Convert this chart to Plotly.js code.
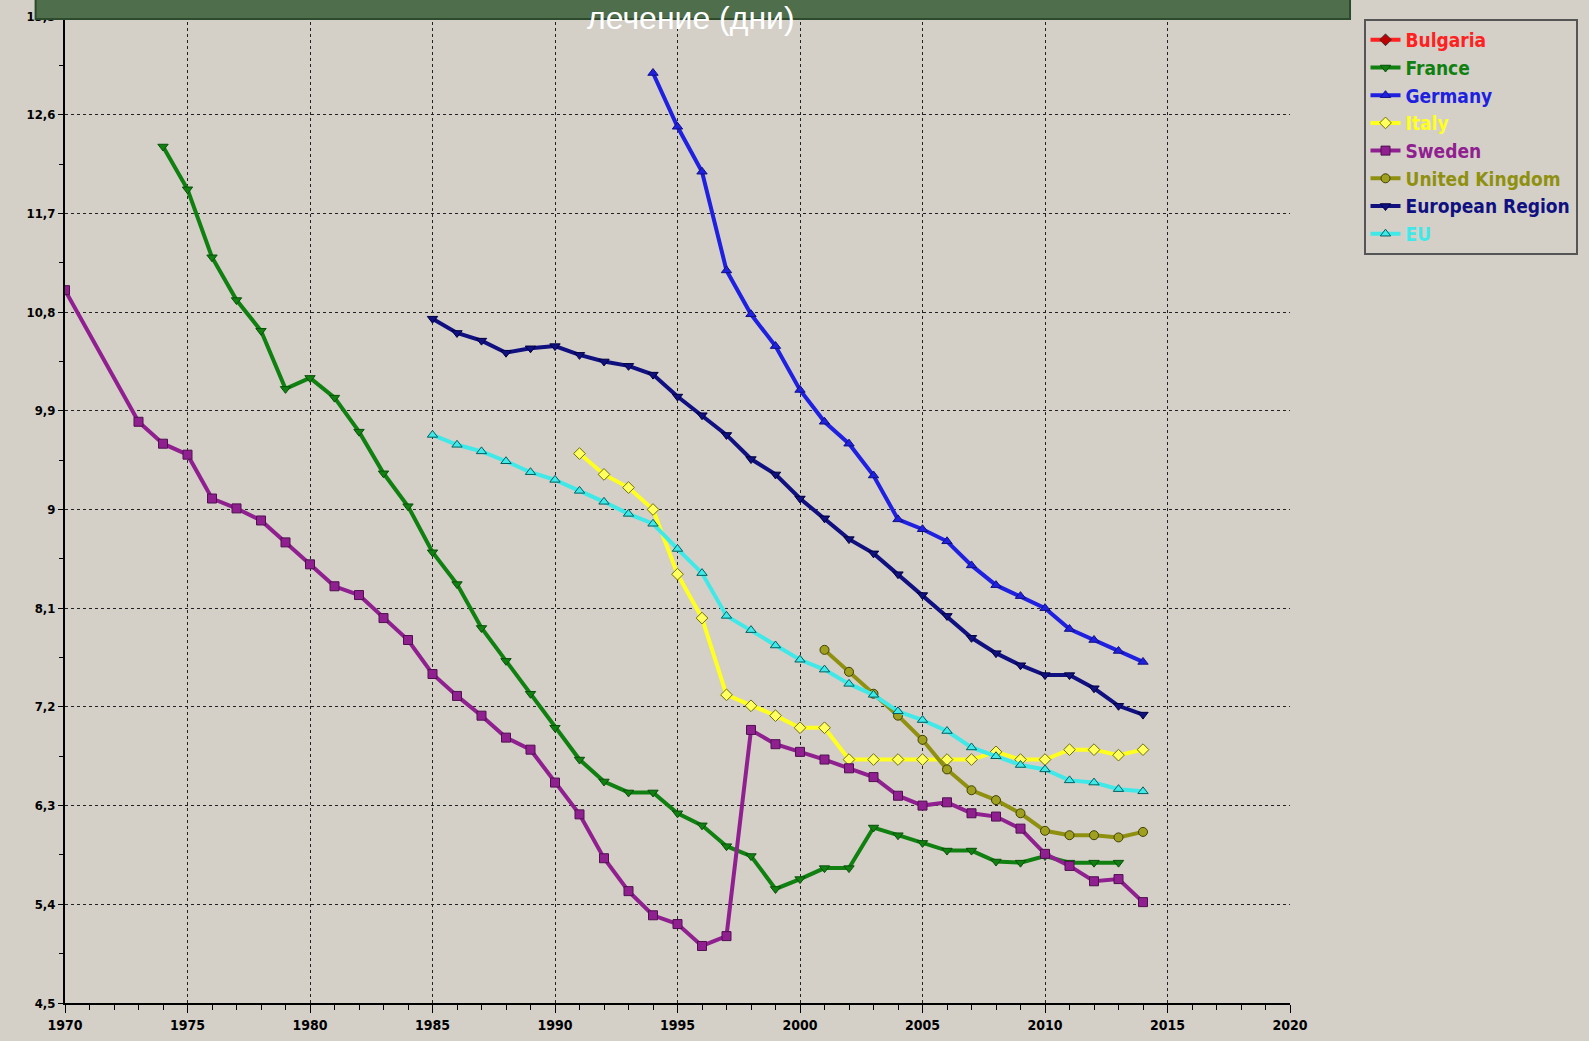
<!DOCTYPE html>
<html><head><meta charset="utf-8">
<script src="https://cdn.plot.ly/plotly-3.0.1.min.js"></script>
<style>html,body{margin:0;background:#d4d0c8;overflow:hidden}</style></head>
<body><div id="chart" style="width:1589px;height:1041px"></div>
<script>
const swedenYears = [1970,1973,1974,1975,1976,1977,1978,1979,1980,1981,1982,1983,1984,1985,1986,1987,1988,1989,1990,1991,1992,1993,1994,1995,1996,1997,1998,1999,2000,2001,2002,2003,2004,2005,2006,2007,2008,2009,2010,2011,2012,2013,2014];
const sweden = [11.0,9.8,9.6,9.5,9.1,9.01,8.9,8.7,8.5,8.3,8.22,8.01,7.81,7.5,7.3,7.12,6.92,6.81,6.51,6.22,5.82,5.52,5.3,5.22,5.02,5.11,6.99,6.86,6.79,6.72,6.64,6.56,6.39,6.3,6.33,6.23,6.2,6.09,5.86,5.75,5.61,5.63,5.42];
const franceYears = [1974,1975,1976,1977,1978,1979,1980,1981,1982,1983,1984,1985,1986,1987,1988,1989,1990,1991,1992,1993,1994,1995,1996,1997,1998,1999,2000,2001,2002,2003,2004,2005,2006,2007,2008,2009,2010,2011,2012,2013];
const france = [12.31,11.92,11.3,10.91,10.63,10.1,10.2,10.02,9.71,9.33,9.03,8.61,8.32,7.92,7.62,7.32,7.01,6.72,6.52,6.42,6.42,6.23,6.12,5.93,5.84,5.54,5.63,5.73,5.73,6.1,6.03,5.96,5.89,5.89,5.79,5.78,5.84,5.78,5.78,5.78];
const germanyYears = [1994,1995,1996,1997,1998,1999,2000,2001,2002,2003,2004,2005,2006,2007,2008,2009,2010,2011,2012,2013,2014];
const germany = [12.98,12.49,12.08,11.18,10.78,10.49,10.09,9.8,9.6,9.31,8.91,8.82,8.71,8.49,8.31,8.21,8.1,7.91,7.81,7.71,7.61];
const italyYears = [1991,1992,1993,1994,1995,1996,1997,1998,1999,2000,2001,2002,2003,2004,2005,2006,2007,2008,2009,2010,2011,2012,2013,2014];
const italy = [9.51,9.32,9.2,9.0,8.41,8.01,7.31,7.21,7.12,7.01,7.01,6.72,6.72,6.72,6.72,6.72,6.72,6.79,6.72,6.72,6.81,6.81,6.76,6.81];
const ukYears = [2001,2002,2003,2004,2005,2006,2007,2008,2009,2010,2011,2012,2013,2014];
const uk = [7.72,7.52,7.32,7.12,6.9,6.63,6.44,6.35,6.23,6.07,6.03,6.03,6.01,6.06];
const euroYears = [1985,1986,1987,1988,1989,1990,1991,1992,1993,1994,1995,1996,1997,1998,1999,2000,2001,2002,2003,2004,2005,2006,2007,2008,2009,2010,2011,2012,2013,2014];
const euroRegion = [10.74,10.61,10.54,10.43,10.47,10.49,10.41,10.35,10.31,10.23,10.03,9.86,9.68,9.46,9.32,9.1,8.92,8.73,8.6,8.41,8.22,8.03,7.83,7.69,7.58,7.49,7.49,7.37,7.21,7.13];
const eu = [9.68,9.59,9.53,9.44,9.34,9.27,9.17,9.07,8.96,8.87,8.64,8.42,8.03,7.9,7.76,7.63,7.54,7.41,7.31,7.16,7.08,6.98,6.83,6.75,6.67,6.63,6.53,6.51,6.45,6.43];
const yTicks = [4.5,5.4,6.3,7.2,8.1,9,9.9,10.8,11.7,12.6,13.5];
const yLabels = ['4,5','5,4','6,3','7,2','8,1','9','9,9','10,8','11,7','12,6','13,5'];
const xTicks = [1970,1975,1980,1985,1990,1995,2000,2005,2010,2015,2020];

function tr(name, x, y, color, symbol, mfill, mline) {
  return {x, y, name, type:'scatter', mode:'lines+markers',
    line:{color, width:4},
    marker:{symbol, size:9, color:mfill||color, line:{color:mline||'#333', width:1}}};
}
const data = [
  tr('Bulgaria', [null], [null], '#ff2020', 'diamond', '#c00000'),
  tr('France', franceYears, france, '#108010', 'triangle-down', '#108010', '#0a500a'),
  tr('Germany', germanyYears, germany, '#2020e0', 'triangle-up', '#2020e0', '#101080'),
  tr('Italy', italyYears, italy, '#ffff20', 'diamond', '#ffff60', '#707000'),
  tr('Sweden', swedenYears, sweden, '#902090', 'square', '#902090', '#501050'),
  tr('United Kingdom', ukYears, uk, '#909010', 'circle', '#a0a020', '#404000'),
  tr('European Region', euroYears, euroRegion, '#101080', 'triangle-down', '#101080', '#000040'),
  tr('EU', euroYears, eu, '#40e8e8', 'triangle-up', '#40e8e8', '#006060')
];
const legendColors = ['#ff2020','#108010','#2020e0','#ffff20','#902090','#909010','#101080','#40e8e8'];
data.forEach((d,i)=>{ d.name = '<span style="color:'+legendColors[i]+'">'+d.name+'</span>'; });
const layout = {
  width:1589, height:1041,
  paper_bgcolor:'#d4d0c8', plot_bgcolor:'#d4d0c8',
  margin:{l:65, r:297, t:16, b:38},
  font:{family:'DejaVu Sans Condensed', size:15, color:'#000'},
  xaxis:{range:[1970,2020], tickvals:xTicks, ticks:'outside', ticklen:8, tickcolor:'#000',
    minor:{dtick:1, ticks:'outside', ticklen:5, tickcolor:'#000', showgrid:false},
    showgrid:true, gridcolor:'#222', griddash:'dot', gridwidth:1,
    showline:true, linecolor:'#000', linewidth:2, zeroline:false,
    tickfont:{size:14, family:'DejaVu Sans Condensed', weight:'bold'}},
  yaxis:{range:[4.5,13.5], tickvals:yTicks, ticktext:yLabels, ticks:'outside', ticklen:5, tickcolor:'#000',
    minor:{dtick:0.45, ticks:'outside', ticklen:4, tickcolor:'#000', showgrid:false},
    showgrid:true, gridcolor:'#222', griddash:'dot', gridwidth:1,
    showline:true, linecolor:'#000', linewidth:2, zeroline:false,
    tickfont:{size:13, family:'DejaVu Sans Condensed', weight:'bold'}},
  legend:{x:1.06, y:0.997, xanchor:'left', yanchor:'top', bgcolor:'#d4d0c8', bordercolor:'#555', borderwidth:2,
    font:{size:19, family:'DejaVu Sans Condensed', weight:'bold'}, tracegroupgap:0, itemwidth:30},
  shapes:[{type:'rect', xref:'paper', yref:'paper', x0:-0.024, x1:1.049, y0:0.997, y1:1.05,
    fillcolor:'#4f6e4c', line:{color:'#2e4a2c', width:2}}],
  annotations:[{text:'лечение (дни)', xref:'paper', yref:'paper', x:0.511, y:1.0, yanchor:'middle', yshift:-2,
    showarrow:false, font:{size:32, color:'#ffffff', family:'Liberation Sans'}}]
};
Plotly.newPlot('chart', data, layout, {displayModeBar:false});
</script></body></html>
